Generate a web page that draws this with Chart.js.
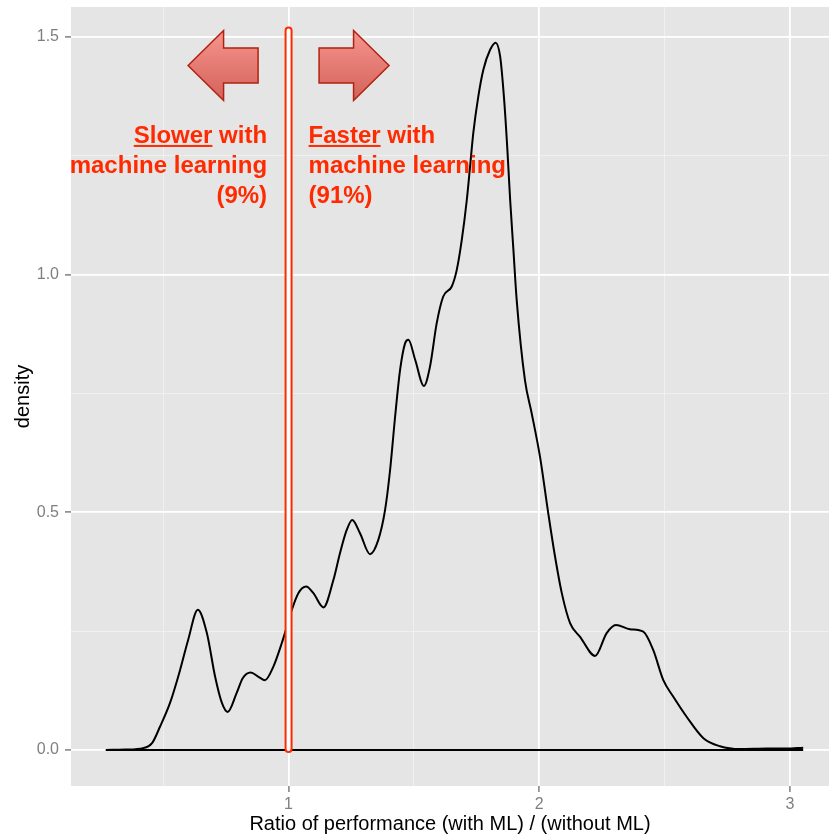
<!DOCTYPE html>
<html lang="en">
<head>
<meta charset="UTF-8">
<title>Density</title>
<style>body{margin:0;background:#fff}</style>
</head>
<body>
<canvas id="myChart" width="829" height="836"></canvas>
<script src="https://cdn.jsdelivr.net/npm/chart.js"></script>
<script>
// density curve
const densityX = [0.271, 0.348, 0.420, 0.456, 0.487, 0.527, 0.567, 0.599, 0.638, 0.674, 0.707, 0.734, 0.757,
  0.793, 0.817, 0.849, 0.880, 0.906, 0.939, 0.973, 0.993, 1.013, 1.039, 1.070, 1.099, 1.139, 1.179, 1.205,
  1.232, 1.254, 1.285, 1.325, 1.358, 1.385, 1.405, 1.425, 1.445, 1.465, 1.478, 1.505, 1.540, 1.564, 1.591,
  1.617, 1.651, 1.671, 1.691, 1.711, 1.724, 1.737, 1.757, 1.777, 1.804, 1.826, 1.844, 1.860, 1.873, 1.884,
  1.897, 1.910, 1.943, 1.970, 2.003, 2.036, 2.063, 2.090, 2.123, 2.163, 2.223, 2.269, 2.306, 2.362, 2.415,
  2.455, 2.495, 2.535, 2.588, 2.655, 2.721, 2.801, 2.907, 2.987, 3.053];
const densityY = [0, 0.001, 0.004, 0.015, 0.049, 0.099, 0.168, 0.231, 0.295, 0.246, 0.154, 0.099, 0.080,
  0.120, 0.151, 0.163, 0.154, 0.147, 0.175, 0.225, 0.259, 0.295, 0.330, 0.344, 0.330, 0.300, 0.358, 0.414,
  0.463, 0.484, 0.456, 0.412, 0.442, 0.505, 0.589, 0.701, 0.800, 0.856, 0.863, 0.821, 0.766, 0.806, 0.898,
  0.954, 0.975, 1.010, 1.073, 1.157, 1.227, 1.298, 1.375, 1.431, 1.473, 1.488, 1.459, 1.368, 1.262, 1.157,
  1.052, 0.947, 0.778, 0.708, 0.617, 0.498, 0.407, 0.330, 0.267, 0.238, 0.198, 0.246, 0.263, 0.254, 0.249,
  0.210, 0.147, 0.112, 0.070, 0.025, 0.008, 0.002, 0.003, 0.003, 0.005];
const baseX = [0.271, 3.053];
const baseY = [0, 0];

const xTicks = [0.5, 1, 1.5, 2, 2.5, 3];
const xMajor = [1, 2, 3];
const yTicks = [0, 0.25, 0.5, 0.75, 1, 1.25, 1.5];
const yMajor = [0, 0.5, 1, 1.5];

const splitAt = 1;      // ratio = 1 marker
const markerTop = 1.52;
const leftLines = ['Slower with', 'machine learning', '(9%)'];
const rightLines = ['Faster with', 'machine learning', '(91%)'];

const toPts = (xs, ys) => xs.map((x, i) => ({x: x, y: ys[i]}));

const panelBg = {
    id: 'panelBg',
    beforeDraw(chart) {
        const {ctx, chartArea: a} = chart;
        ctx.save();
        ctx.fillStyle = '#E5E5E5';
        ctx.fillRect(a.left, a.top, a.right - a.left, a.bottom - a.top);
        ctx.restore();
    }
};

function arrow(ctx, cx, cy, dir) {
    // dir = -1 points left, 1 points right
    const p = [[100.5, 0], [65, -35], [65, -17.5], [30.5, -17.5], [30.5, 17.5], [65, 17.5], [65, 35]];
    const g = ctx.createLinearGradient(0, cy - 35, 0, cy + 35);
    g.addColorStop(0, '#F6958E');
    g.addColorStop(1, '#D3625A');
    ctx.beginPath();
    p.forEach((q, i) => {
        const x = cx + dir * q[0], y = cy + q[1];
        if (i === 0) ctx.moveTo(x, y); else ctx.lineTo(x, y);
    });
    ctx.closePath();
    ctx.fillStyle = g;
    ctx.fill();
    ctx.strokeStyle = '#B0220F';
    ctx.lineWidth = 1.5;
    ctx.stroke();
}

const notes = {
    id: 'notes',
    afterDatasetsDraw(chart) {
        const {ctx, scales: {x, y}} = chart;
        const px = x.getPixelForValue(splitAt);
        const top = y.getPixelForValue(markerTop);
        const bot = y.getPixelForValue(0);
        ctx.save();
        // marker bar
        ctx.beginPath();
        ctx.roundRect(px - 3, top, 6, bot - top + 2, 3);
        ctx.fillStyle = '#FFFFFF';
        ctx.fill();
        ctx.strokeStyle = '#FF2A00';
        ctx.lineWidth = 2;
        ctx.stroke();

        const y15 = y.getPixelForValue(1.5);
        arrow(ctx, px, y15 + 28.5, -1);
        arrow(ctx, px, y15 + 28.5, 1);

        ctx.font = 'bold 24px "Liberation Sans", Arial, sans-serif';
        ctx.fillStyle = '#FF2A00';
        ctx.textBaseline = 'alphabetic';
        const b0 = y15 + 106;
        ctx.textAlign = 'right';
        leftLines.forEach((t, i) => ctx.fillText(t, px - 21.5, b0 + i * 30));
        ctx.textAlign = 'left';
        rightLines.forEach((t, i) => ctx.fillText(t, px + 20, b0 + i * 30));
        // underline first words
        const wl = ctx.measureText(leftLines[0]).width;
        const ws = ctx.measureText('Slower').width;
        ctx.fillRect(px - 21.5 - wl, b0 + 2, ws, 2);
        const wf = ctx.measureText('Faster').width;
        ctx.fillRect(px + 20, b0 + 2, wf, 2);
        ctx.restore();
    }
};

const gridOpts = (major) => ({
    color: (c) => major.includes(c.tick.value) ? '#FFFFFF' : '#F2F2F2',
    lineWidth: (c) => major.includes(c.tick.value) ? 1.8 : 0.8,
    tickColor: (c) => major.includes(c.tick.value) ? '#7F7F7F' : 'rgba(0,0,0,0)',
    tickWidth: 1.5,
    tickLength: 6
});

const config = {
    type: 'scatter',
    data: {
        datasets: [{
            data: toPts(densityX, densityY),
            showLine: true,
            borderColor: '#000000',
            borderWidth: 2,
            pointRadius: 0,
            tension: 0.4,
            cubicInterpolationMode: 'monotone'
        }, {
            data: toPts(baseX, baseY),
            showLine: true,
            borderColor: '#000000',
            borderWidth: 2,
            pointRadius: 0
        }]
    },
    options: {
        responsive: false,
        animation: false,
        events: [],
        layout: {padding: {top: 7, right: 0, left: 0, bottom: 0}},
        plugins: {
            legend: {display: false},
            tooltip: {enabled: false}
        },
        scales: {
            x: {
                type: 'linear',
                min: 0.132,
                max: 3.156,
                afterBuildTicks: (s) => { s.ticks = xTicks.map(v => ({value: v})); },
                afterFit: (s) => { s.height = 50; s.paddingLeft = 0; s.paddingRight = 0; },
                border: {display: false},
                grid: gridOpts(xMajor),
                ticks: {
                    autoSkip: false,
                    maxRotation: 0,
                    padding: 3,
                    color: '#7F7F7F',
                    font: {family: '"Liberation Sans", Arial, sans-serif', size: 16},
                    callback: (v) => xMajor.includes(v) ? String(v) : ''
                },
                title: {
                    display: true,
                    text: 'Ratio of performance (with ML) / (without ML)',
                    color: '#000000',
                    padding: {top: 0, bottom: 0},
                    font: {family: '"Liberation Sans", Arial, sans-serif', size: 20}
                }
            },
            y: {
                type: 'linear',
                min: -0.0757,
                max: 1.563,
                afterBuildTicks: (s) => { s.ticks = yTicks.map(v => ({value: v})); },
                afterFit: (s) => { s.width = 71; s.paddingTop = 0; s.paddingBottom = 0; },
                border: {display: false},
                grid: gridOpts(yMajor),
                ticks: {
                    autoSkip: false,
                    padding: 6,
                    color: '#7F7F7F',
                    font: {family: '"Liberation Sans", Arial, sans-serif', size: 16},
                    callback: (v) => yMajor.includes(v) ? v.toFixed(1) : ''
                },
                title: {
                    display: true,
                    text: 'density',
                    color: '#000000',
                    padding: {top: 11, bottom: 0},
                    font: {family: '"Liberation Sans", Arial, sans-serif', size: 20}
                }
            }
        }
    },
    plugins: [panelBg, notes]
};

var myChart = new Chart(document.getElementById('myChart'), config);
</script>
</body>
</html>
